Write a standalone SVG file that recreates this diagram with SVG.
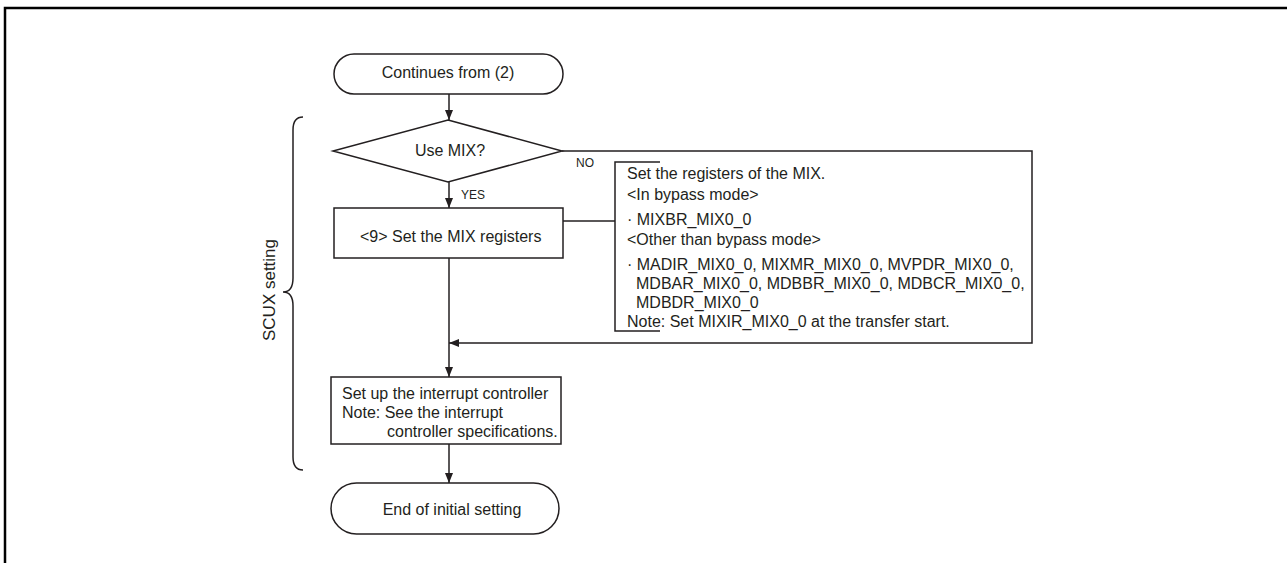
<svg xmlns="http://www.w3.org/2000/svg" width="1287" height="563" viewBox="0 0 1287 563">
<defs>
<style>
.t{font-family:"Liberation Sans",Arial,sans-serif;font-size:16px;fill:#231f20}
.s{font-family:"Liberation Sans",Arial,sans-serif;font-size:12px;fill:#231f20}
.ln{fill:none;stroke:#231f20;stroke-width:1.5}
.nd{fill:#fff;stroke:#231f20;stroke-width:1.5}
</style>
<marker id="ah" markerWidth="10" markerHeight="8" refX="10" refY="4" orient="auto" markerUnits="userSpaceOnUse">
<path d="M0,0 L10,4 L0,8 Z" fill="#231f20"/>
</marker>
</defs>
<rect width="1287" height="563" fill="#fff"/>
<path d="M5,563 V8 H1287" fill="none" stroke="#000" stroke-width="2.5"/>

<g id="connectors">
<line class="ln" x1="449" y1="94" x2="449" y2="120" marker-end="url(#ah)"/>
<line class="ln" x1="449" y1="182" x2="449" y2="208" marker-end="url(#ah)"/>
<line class="ln" x1="449" y1="258" x2="449" y2="377" marker-end="url(#ah)"/>
<path class="ln" d="M562,151 H1032 V343 H449" marker-end="url(#ah)"/>
<line class="ln" x1="449" y1="444" x2="449" y2="483" marker-end="url(#ah)"/>
<line class="ln" x1="563" y1="221" x2="615" y2="221"/>
<text class="s" x="576" y="167">NO</text>
<text class="s" x="461" y="199">YES</text>
</g>

<g id="start">
<rect class="nd" x="334" y="54" width="229" height="40" rx="20" ry="20"/>
<text class="t" x="448" y="78" text-anchor="middle">Continues from (2)</text>
</g>

<g id="decision">
<polygon class="nd" points="448,120 562,151 448,182 333,151"/>
<text class="t" x="450" y="156" text-anchor="middle">Use MIX?</text>
</g>

<g id="setmix">
<rect class="nd" x="334" y="208" width="229" height="50"/>
<text class="t" x="360" y="242">&lt;9&gt; Set the MIX registers</text>
</g>

<g id="note">
<path class="ln" d="M660,162 H615 V331 H660"/>
<text class="t" x="627" y="179">Set the registers of the MIX.</text>
<text class="t" x="627" y="200">&lt;In bypass mode&gt;</text>
<text class="t" x="627" y="225">· MIXBR_MIX0_0</text>
<text class="t" x="627" y="245">&lt;Other than bypass mode&gt;</text>
<text class="t" x="627" y="270">· MADIR_MIX0_0, MIXMR_MIX0_0, MVPDR_MIX0_0,</text>
<text class="t" x="636" y="289">MDBAR_MIX0_0, MDBBR_MIX0_0, MDBCR_MIX0_0,</text>
<text class="t" x="636" y="308">MDBDR_MIX0_0</text>
<text class="t" x="627" y="327">Note: Set MIXIR_MIX0_0 at the transfer start.</text>
</g>

<g id="interrupt">
<rect class="nd" x="331" y="377" width="230" height="67"/>
<text class="t" x="342" y="399">Set up the interrupt controller</text>
<text class="t" x="342" y="418">Note: See the interrupt</text>
<text class="t" x="387" y="437">controller specifications.</text>
</g>

<g id="end">
<rect class="nd" x="331" y="483" width="228" height="51" rx="25.5" ry="25.5"/>
<text class="t" x="452" y="515" text-anchor="middle">End of initial setting</text>
</g>

<g id="scux">
<path class="ln" d="M303,117 Q293,117 293,130 V278 Q293,292 283,292 Q293,292 293,306 V457 Q293,470 303,470"/>
<text class="t" x="0" y="0" text-anchor="middle" transform="translate(275,290) rotate(-90)" style="font-size:17px">SCUX setting</text>
</g>
</svg>
